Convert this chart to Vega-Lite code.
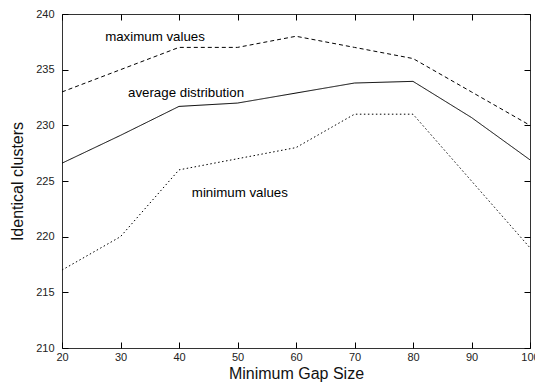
{
  "$schema": "https://vega.github.io/schema/vega-lite/v6.json",
  "width": 468,
  "height": 334,
  "autosize": {"type": "none"},
  "padding": {"left": 62, "top": 14, "right": 5, "bottom": 37},
  "background": "white",
  "config": {
    "view": {"stroke": "#333", "strokeWidth": 1},
    "font": "Liberation Sans",
    "axis": {"grid": false, "domain": false, "ticks": true, "tickColor": "black", "tickWidth": 1, "zindex": 1, "labelColor": "#222", "labelFont": "Liberation Sans", "titleFont": "Liberation Sans", "titleFontWeight": "normal", "titleColor": "#111"}
  },
  "datasets": {
    "lines": [
      {"gap": 20, "value": 233, "series": "maximum"},
      {"gap": 30, "value": 235, "series": "maximum"},
      {"gap": 40, "value": 237, "series": "maximum"},
      {"gap": 50, "value": 237, "series": "maximum"},
      {"gap": 60, "value": 238, "series": "maximum"},
      {"gap": 70, "value": 237, "series": "maximum"},
      {"gap": 80, "value": 236, "series": "maximum"},
      {"gap": 90, "value": 233, "series": "maximum"},
      {"gap": 100, "value": 230, "series": "maximum"},
      {"gap": 20, "value": 226.6, "series": "average"},
      {"gap": 30, "value": 229.1, "series": "average"},
      {"gap": 40, "value": 231.7, "series": "average"},
      {"gap": 50, "value": 232.0, "series": "average"},
      {"gap": 60, "value": 232.9, "series": "average"},
      {"gap": 70, "value": 233.8, "series": "average"},
      {"gap": 80, "value": 233.95, "series": "average"},
      {"gap": 90, "value": 230.7, "series": "average"},
      {"gap": 100, "value": 226.9, "series": "average"},
      {"gap": 20, "value": 217, "series": "minimum"},
      {"gap": 30, "value": 220, "series": "minimum"},
      {"gap": 40, "value": 226, "series": "minimum"},
      {"gap": 50, "value": 227, "series": "minimum"},
      {"gap": 60, "value": 228, "series": "minimum"},
      {"gap": 70, "value": 231, "series": "minimum"},
      {"gap": 80, "value": 231, "series": "minimum"},
      {"gap": 90, "value": 225, "series": "minimum"},
      {"gap": 100, "value": 219, "series": "minimum"}
    ],
    "labels": [
      {"gap": 35.9, "value": 237.9, "text": "maximum values"},
      {"gap": 41.2, "value": 232.9, "text": "average distribution"},
      {"gap": 50.4, "value": 223.9, "text": "minimum values"}
    ]
  },
  "layer": [
    {
      "data": {"name": "lines"},
      "mark": {"type": "line", "color": "black", "strokeWidth": 1},
      "encoding": {
        "x": {"field": "gap", "type": "quantitative", "scale": {"domain": [20, 100], "nice": false},
              "axis": {"title": "Minimum Gap Size", "titleFontSize": 16, "titlePadding": 3, "labelFontSize": 11, "values": [20,30,40,50,60,70,80,90,100], "offset": -6, "tickSize": 6, "labelPadding": 3, "labelFlush": false}},
        "y": {"field": "value", "type": "quantitative", "scale": {"domain": [210, 240], "nice": false, "zero": false},
              "axis": {"title": "Identical clusters", "titleFontSize": 16, "titlePadding": 10, "labelFontSize": 11, "values": [210,215,220,225,230,235,240], "offset": -6, "tickSize": 6, "labelPadding": 8}},
        "detail": {"field": "series"},
        "strokeDash": {"field": "series", "type": "nominal", "legend": null,
                       "scale": {"domain": ["maximum", "average", "minimum"], "range": [[4, 3], [1, 0], [1.5, 2.5]]}}
      }
    },
    {
      "data": {"name": "labels"},
      "mark": {"type": "text", "fontSize": 13.3, "color": "black", "font": "Liberation Sans"},
      "encoding": {
        "x": {"field": "gap", "type": "quantitative", "axis": {"orient": "top", "labels": false, "title": null, "offset": -6, "tickSize": 6, "values": [20,30,40,50,60,70,80,90,100]}},
        "y": {"field": "value", "type": "quantitative", "axis": {"orient": "right", "labels": false, "title": null, "offset": -6, "tickSize": 6, "values": [210,215,220,225,230,235,240]}},
        "text": {"field": "text"}
      }
    }
  ],
  "resolve": {"axis": {"x": "independent", "y": "independent"}}
}
